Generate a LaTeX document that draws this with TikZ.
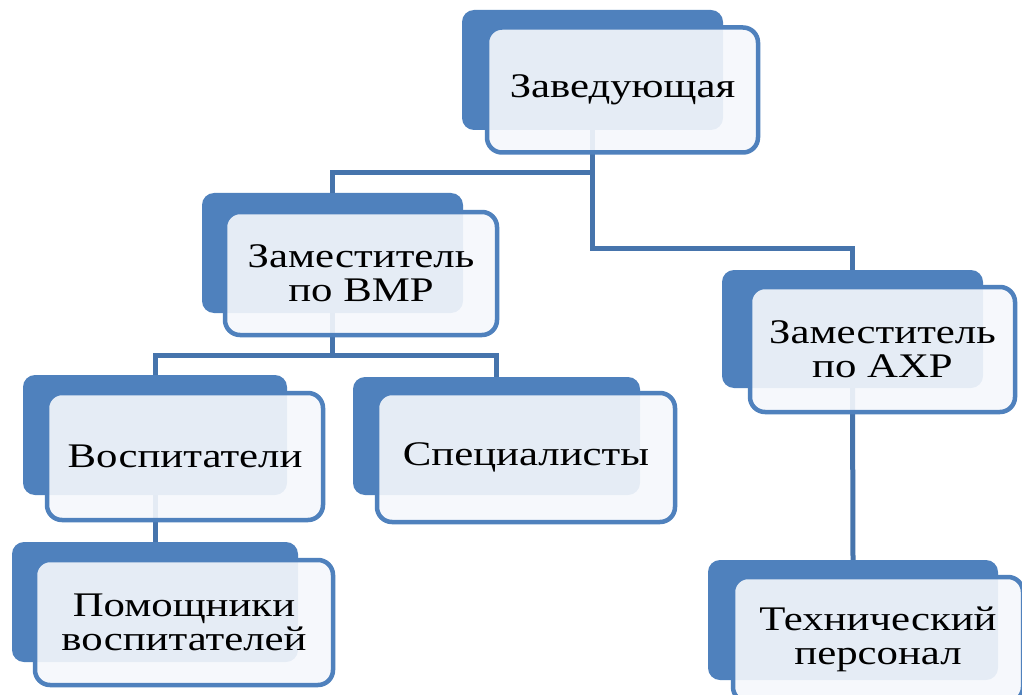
\documentclass[tikz,border=0pt]{standalone}
\usepackage{fontspec}
\newfontfamily\lab{Liberation Serif}[FakeStretch=1.24]
\definecolor{darkbox}{RGB}{79,129,189}
\definecolor{edgeblue}{RGB}{79,129,189}
\definecolor{connblue}{RGB}{70,116,172}
\definecolor{frontfill}{RGB}{246,248,252}
\tikzset{
  backbox/.style={draw=none, fill=darkbox, rounded corners=12pt, minimum width=#1, minimum height=120pt, inner sep=0pt},
  frontbox/.style={draw=edgeblue, line width=4.5pt, fill=frontfill, fill opacity=0.9, text opacity=1, rounded corners=15pt, minimum width=#1, minimum height=125pt, inner sep=0pt, align=center, font=\lab\fontsize{34.5}{34}\selectfont, text=black},
  conn/.style={draw=connblue, line width=5pt}
}
\begin{document}
\begin{tikzpicture}[x=1pt,y=-1pt]
\useasboundingbox (0,0) rectangle (1022,695);
\fill[white] (0,0) rectangle (1022,695);
% back boxes
\node[backbox=261pt] (d1) at (592.5,70) {};
\node[backbox=261pt] (d2) at (332.5,253) {};
\node[backbox=261pt, minimum height=118pt] (d3) at (852.5,329) {};
\node[backbox=264pt] (d4) at (155,435) {};
\node[backbox=287pt, minimum height=118pt] (d5) at (496.5,436) {};
\node[backbox=286pt] (d6) at (155,602) {};
\node[backbox=290pt] (d7) at (853,620) {};
% connectors
\draw[conn] (d1.south) -- (d1.south |- 0,248) -| (d3.north);
\draw[conn] (d1.south |- 0,173) -| (d2.north);
\draw[conn] (d2.south) -- (d2.south |- 0,355) -| (d4.north);
\draw[conn] (d2.south |- 0,355) -| (d5.north);
\draw[conn] (d4.south) -- (d6.north);
\draw[conn] (d3.south) -- (d7.north);
% front boxes
\node[frontbox=271pt] (f1) at (622.5,90) {Заведующая};
\node[frontbox=272pt, minimum height=123pt] (f2) at (361,273.5) {Заместитель\\по ВМР};
\node[frontbox=265pt] (f3) at (882.5,349.5) {Заместитель\\по АХР};
\node[frontbox=276pt, minimum height=127pt] (f4) at (185,456.5) {Воспитатели};
\node[frontbox=298pt, minimum height=129pt] (f5) at (526,457.5) {Специалисты};
\node[frontbox=298pt] (f6) at (184,622.5) {Помощники\\воспитателей};
\node[frontbox=290pt] (f7) at (878,639.5) {Технический\\персонал};
\end{tikzpicture}
\end{document}
